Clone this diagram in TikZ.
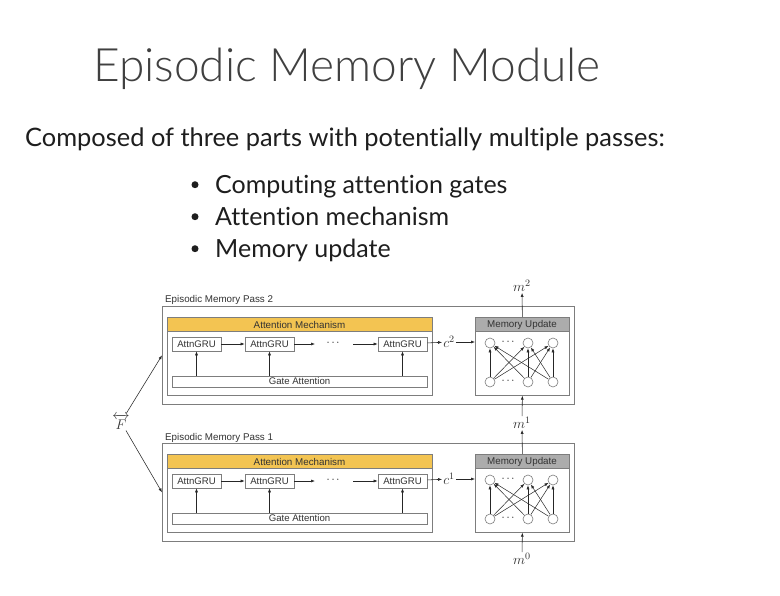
\RequirePackage{fix-cm}
\documentclass[tikz,border=0pt]{standalone}
\usepackage{amsmath}
\usepackage{fontspec}
\setmainfont[Ligatures=NoCommon]{Lato}
\newfontfamily\titlefont{Lato Light}
\newfontfamily\diafont{Liberation Sans}
\usetikzlibrary{arrows.meta}
\definecolor{attnyellow}{RGB}{243,196,82}
\definecolor{memgray}{RGB}{172,172,172}
\definecolor{boxgray}{RGB}{125,125,125}
\definecolor{txt}{RGB}{30,30,30}
\definecolor{dtxt}{RGB}{50,50,50}
\begin{document}
\begin{tikzpicture}[x=1pt,y=-1pt,
  frame/.style={draw=boxgray, line width=0.7pt, inner sep=0, anchor=north west},
  gru/.style={draw=boxgray, line width=0.6pt, fill=white, inner sep=0, minimum width=49pt, minimum height=14pt, text=dtxt, font=\diafont\fontsize{9.6}{10}\selectfont},
  gate/.style={draw=boxgray, line width=0.6pt, fill=white, inner sep=0, minimum width=255pt, minimum height=11pt, text=dtxt, font=\diafont\fontsize{9.6}{10}\selectfont},
  hdr/.style={inner sep=0, text=dtxt, font=\diafont\fontsize{9.8}{10}\selectfont},
  neuron/.style={circle, draw=boxgray, line width=0.6pt, fill=white, minimum size=10pt, inner sep=0},
  arr/.style={-{Latex[length=4pt,width=3pt]}, line width=0.55pt, draw=black!85},
  plab/.style={anchor=base west, inner sep=0, text=dtxt, font=\diafont\fontsize{9.8}{10}\selectfont},
  mlab/.style={inner sep=1pt, text=dtxt, font=\fontsize{14}{15}\selectfont}
]
\useasboundingbox[fill=white] (0,0) rectangle (780,596);

% title and text
\node[anchor=base west, inner sep=0, text=txt!85, font=\titlefont\fontsize{46}{50}\selectfont] (title) at (93,82) {Episodic Memory Module};
\node[anchor=base west, inner sep=0, text=txt, font=\fontsize{25.4}{28}\selectfont] (sub) at (25,146.7) {Composed of three parts with potentially multiple passes:};
\foreach \i/\t/\yy in {1/Computing attention gates/194, 2/Attention mechanism/226, 3/Memory update/258}{
  \node[circle, fill=txt, inner sep=0, minimum size=7pt] (bul\i) at (195,\yy-9.3) {};
  \node[anchor=base west, inner sep=0, text=txt, font=\fontsize{25}{28}\selectfont] (item\i) at (215,\yy) {\t};
}

% passes
\foreach \p/\dy in {2/0, 1/137}{
  \node[frame, minimum width=412pt, minimum height=98pt] (outer\p) at (162,306+\dy) {};
  \node[plab] (plab\p) at (165,303+\dy) {Episodic Memory Pass \p};
  % attention block
  \node[frame, minimum width=265pt, minimum height=78pt] (attn\p) at (167,317+\dy) {};
  \filldraw[fill=attnyellow, draw=boxgray, line width=0.6pt] (167,317+\dy) rectangle (432,331+\dy);
  \node[hdr] (attnh\p) at (299.5,324.5+\dy) {Attention Mechanism};
  \node[gru] (g\p a) at (196.5,344+\dy) {AttnGRU};
  \node[gru] (g\p b) at (269.5,344+\dy) {AttnGRU};
  \node[gru] (g\p c) at (402.5,344+\dy) {AttnGRU};
  \node[inner sep=0, font=\fontsize{11}{11}\selectfont] (dots\p) at (334,343+\dy) {$\cdots$};
  \coordinate (da\p) at (315,344+\dy);
  \coordinate (db\p) at (353,344+\dy);
  \node[gate] (gate\p) at (299.5,381.5+\dy) {Gate Attention};
  \draw[arr] (g\p a) -- (g\p b);
  \draw[arr] (g\p b) -- (da\p);
  \draw[arr] (db\p) -- (g\p c);
  \draw[arr] (gate\p.north -| g\p a) -- (g\p a);
  \draw[arr] (gate\p.north -| g\p b) -- (g\p b);
  \draw[arr] (gate\p.north -| g\p c) -- (g\p c);
  \node[mlab] (c\p) at (449,342+\dy) {$c^{\p}$};
  \draw[arr] (g\p c) -- (c\p);
  % memory update
  \node[frame, minimum width=94pt, minimum height=78pt] (mem\p) at (475,317+\dy) {};
  \filldraw[fill=memgray, draw=boxgray, line width=0.6pt] (475,317+\dy) rectangle (569,331+\dy);
  \node[hdr] (memh\p) at (522,324.5+\dy) {Memory Update};
  \draw[arr] (c\p) -- (c\p -| mem\p.west);
  \foreach \k/\xx in {1/490, 2/528, 3/553}{
    \node[neuron] (t\p\k) at (\xx,343+\dy) {};
    \node[neuron] (b\p\k) at (\xx,382+\dy) {};
  }
  \node[inner sep=0, font=\fontsize{11}{11}\selectfont] (td\p) at (509,342+\dy) {$\cdots$};
  \node[inner sep=0, font=\fontsize{11}{11}\selectfont] (bd\p) at (509,381+\dy) {$\cdots$};
  \foreach \i in {1,2,3}{
    \foreach \j in {1,2,3}{
      \draw[arr, line width=0.5pt] (b\p\i) -- (t\p\j);
    }
  }
}

% memory labels
\node[mlab] (m2) at (522,286) {$m^2$};
\node[mlab] (m1) at (522,423) {$m^1$};
\node[mlab] (m0) at (522,559) {$m^0$};
\draw[arr] (mem2.north) -- (m2);
\draw[arr] (mem1.north) -- (m1);
\draw[arr] (m1) -- (mem2.south);
\draw[arr] (m0) -- (mem1.south);

% facts
\node[mlab] (F) at (121,422) {$\overleftrightarrow{F}$};
\draw[arr] (F) -- (outer2.west);
\draw[arr] (F) -- (outer1.west);
\end{tikzpicture}
\end{document}
